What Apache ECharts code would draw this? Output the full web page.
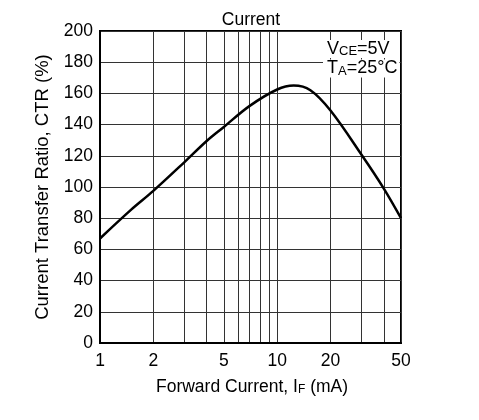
<!DOCTYPE html>
<html><head><meta charset="utf-8">
<script src="https://cdn.jsdelivr.net/npm/echarts@6/dist/echarts.min.js"></script>
<style>html,body{margin:0;padding:0;background:#fff}#c{width:479px;height:420px}</style>
</head><body><div id="c"></div>
<script>
// Forward current IF (mA) and current transfer ratio CTR (%)
const currentMA = [1, 1.5, 2, 3, 4, 5, 7, 10, 12.4, 15.4, 20, 30, 40, 50];
const ctrPct    = [67, 85.5, 97.5, 116, 129.5, 138.5, 152, 162.5, 165, 162, 149, 120.5, 99, 80];
const xGridTicks = [1, 2, 3, 4, 5, 6, 7, 8, 9, 10, 20, 30, 40, 50];
const xTickLabels = [1, 2, 5, 10, 20, 50];
const yTicks = [0, 20, 40, 60, 80, 100, 120, 140, 160, 180, 200];

const FONT = 'Liberation Sans, Arial, sans-serif';
const chart = echarts.init(document.getElementById('c'), null, {renderer: 'canvas'});
chart.setOption({
  animation: false,
  backgroundColor: '#fff',
  textStyle: {fontFamily: FONT, color: '#000'},
  grid: {left: 100, right: 78, top: 31, bottom: 77, show: true, borderColor: '#000', borderWidth: 2, backgroundColor: 'transparent'},
  graphic: [
    {type: 'text', x: 251, y: 20, z: 100, style: {text: 'Current', fontFamily: FONT, fontSize: 17.5, fill: '#000', align: 'center', verticalAlign: 'middle'}},
    {type: 'text', x: 323, y: 40, z: 100, style: {
      text: 'V{s|CE}=5V', fontFamily: FONT, fontSize: 18, fill: '#000', backgroundColor: '#fff', padding: [0, 2, 0, 4],
      rich: {s: {fontFamily: FONT, fontSize: 13, fill: '#000', verticalAlign: 'bottom', padding: [5, 0, 0, 0]}}
    }},
    {type: 'text', x: 323, y: 59.5, z: 100, style: {
      text: 'T{s|A}=25°C', fontFamily: FONT, fontSize: 18, fill: '#000', backgroundColor: '#fff', padding: [0, 2, 0, 4],
      rich: {s: {fontFamily: FONT, fontSize: 13, fill: '#000', verticalAlign: 'bottom', padding: [5, 0, 0, 0]}}
    }}
  ],
  xAxis: {
    type: 'log', logBase: 10, min: 1, max: 50,
    name: 'Forward Current, I{s|F} (mA)', nameLocation: 'middle', nameGap: 35,
    nameTextStyle: {fontFamily: FONT, fontSize: 17.5, color: '#000', padding: [0, 0, 0, 3], rich: {s: {fontFamily: FONT, fontSize: 12, color: '#000', verticalAlign: 'bottom', padding: [6, 0, 0, 0]}}},
    axisLine: {show: true, lineStyle: {color: '#000', width: 2}},
    axisTick: {show: false, customValues: xGridTicks},
    axisLabel: {customValues: xTickLabels, fontFamily: FONT, fontSize: 17.5, color: '#000', margin: 9, formatter: v => String(Math.round(v))},
    splitLine: {show: true, lineStyle: {color: '#333', width: 1}}
  },
  yAxis: {
    type: 'value', min: 0, max: 200, interval: 20,
    name: 'Current Transfer Ratio, CTR (%)', nameLocation: 'middle', nameGap: 47,
    nameTextStyle: {fontFamily: FONT, fontSize: 18.5, color: '#000'},
    axisLine: {show: true, lineStyle: {color: '#000', width: 2}},
    axisTick: {show: false},
    axisLabel: {fontFamily: FONT, fontSize: 17.5, color: '#000', margin: 7, formatter: v => yTicks.includes(v) ? String(v) : ''},
    splitLine: {show: true, lineStyle: {color: '#333', width: 1}}
  },
  series: [{
    type: 'line', data: currentMA.map((x, i) => [x, ctrPct[i]]),
    smooth: 0.35, showSymbol: false, symbol: 'none',
    lineStyle: {color: '#000', width: 2.5}, z: 5
  }]
});
</script></body></html>
